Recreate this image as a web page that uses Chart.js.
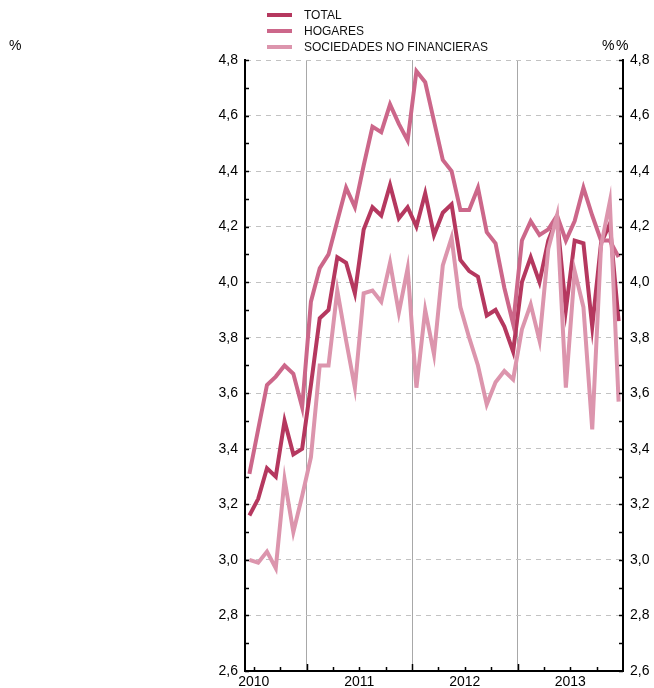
<!DOCTYPE html>
<html>
<head>
<meta charset="utf-8">
<script src="https://cdn.jsdelivr.net/npm/chart.js@4.4.0/dist/chart.umd.min.js"></script>
<style>
html, body { margin: 0; padding: 0; background: #fff; }
#wrap { position: relative; width: 654px; height: 688px; }
</style>
</head>
<body>
<div id="wrap"><canvas id="chart"></canvas></div>
<script>
// monthly data, jun 2010 - dec 2013
const months = [
  '2010-06','2010-07','2010-08','2010-09','2010-10','2010-11','2010-12',
  '2011-01','2011-02','2011-03','2011-04','2011-05','2011-06','2011-07','2011-08','2011-09','2011-10','2011-11','2011-12',
  '2012-01','2012-02','2012-03','2012-04','2012-05','2012-06','2012-07','2012-08','2012-09','2012-10','2012-11','2012-12',
  '2013-01','2013-02','2013-03','2013-04','2013-05','2013-06','2013-07','2013-08','2013-09','2013-10','2013-11','2013-12'
];

const total = [
  3.16, 3.22, 3.33, 3.30, 3.50, 3.38, 3.40,
  3.63, 3.87, 3.90, 4.09, 4.07, 3.96, 4.19, 4.27, 4.24, 4.35, 4.23, 4.27,
  4.20, 4.32, 4.17, 4.25, 4.28, 4.08, 4.04, 4.02, 3.88, 3.90, 3.84, 3.75,
  4.00, 4.09, 4.00, 4.15, 4.23, 3.90, 4.15, 4.14, 3.84, 4.14, 4.21, 3.86
];

const hogares = [
  3.31, 3.47, 3.63, 3.66, 3.70, 3.67, 3.55,
  3.93, 4.05, 4.10, 4.22, 4.34, 4.27, 4.42, 4.56, 4.54, 4.64, 4.57, 4.51,
  4.76, 4.72, 4.58, 4.44, 4.40, 4.26, 4.26, 4.34, 4.18, 4.14, 3.98, 3.85,
  4.15, 4.22, 4.17, 4.19, 4.24, 4.15, 4.22, 4.34, 4.24, 4.15, 4.15, 4.09
];

const sociedades = [
  3.00, 2.99, 3.03, 2.97, 3.29, 3.10, 3.23,
  3.37, 3.70, 3.70, 3.97, 3.79, 3.62, 3.96, 3.97, 3.93, 4.07, 3.89, 4.05,
  3.62, 3.90, 3.74, 4.06, 4.16, 3.91, 3.80, 3.70, 3.56, 3.64, 3.68, 3.65,
  3.83, 3.92, 3.79, 4.12, 4.24, 3.62, 4.04, 3.91, 3.47, 4.13, 4.29, 3.57
];

const seriesNames = ['TOTAL', 'HOGARES', 'SOCIEDADES NO FINANCIERAS'];
const years = ['2010', '2011', '2012', '2013'];
const yTicks = [2.6, 2.8, 3.0, 3.2, 3.4, 3.6, 3.8, 4.0, 4.2, 4.4, 4.6, 4.8];

const colors = ['#b5385f', '#cc678a', '#dc95ad'];
const font = '"Liberation Sans", Arial, sans-serif';

// month string -> position on a month axis (0 = jan 2010), centred in month
function monthPos(m) {
  const p = m.split('-');
  return (Number(p[0]) - 2010) * 12 + Number(p[1]) - 1 + 0.5;
}
function toPoints(vals) {
  return vals.map(function (v, i) { return { x: monthPos(months[i]), y: v }; });
}
// mid year for the label, january for the boundary line
function yearMid(y) { return monthPos(y + '-07') - 0.5; }
function yearStart(y) { return monthPos(y + '-01') - 0.5; }

const xMin = monthPos(months[0]) - 0.5;
const xMax = monthPos(months[months.length - 1]) + 0.5;

const extras = {
  id: 'extras',
  afterDraw: function (chart) {
    const ctx = chart.ctx;
    const area = chart.chartArea;
    const y = chart.scales.y;
    const x = chart.scales.x;
    ctx.save();
    ctx.strokeStyle = '#000';
    ctx.lineWidth = 1.5;
    ctx.beginPath();
    // inward ticks on both value axes, every 0.1
    for (let v = 26; v <= 48; v++) {
      const py = Math.round(y.getPixelForValue(v / 10)) + 0.5;
      ctx.moveTo(area.left, py); ctx.lineTo(area.left + 4, py);
      ctx.moveTo(area.right, py); ctx.lineTo(area.right - 4, py);
    }
    // quarter and year ticks on the time axis
    for (let q = Math.ceil(xMin / 3) * 3; q < xMax; q += 3) {
      const px = Math.round(x.getPixelForValue(q)) + 0.5;
      const len = q % 12 === 0 ? 7 : 4;
      ctx.moveTo(px, area.bottom); ctx.lineTo(px, area.bottom - len);
    }
    ctx.stroke();

    // unit labels
    ctx.fillStyle = '#000';
    ctx.font = '14px ' + font;
    ctx.textBaseline = 'middle';
    ctx.textAlign = 'left';
    ctx.fillText('%', 9, 46);
    ctx.fillText('%', 602, 46);
    ctx.fillText('%', 616, 46);

    // legend
    ctx.font = '12px ' + font;
    chart.data.datasets.forEach(function (ds, i) {
      const ly = 15 + i * 16;
      ctx.strokeStyle = ds.borderColor;
      ctx.lineWidth = 4;
      ctx.beginPath();
      ctx.moveTo(267, ly); ctx.lineTo(292, ly);
      ctx.stroke();
      ctx.fillStyle = '#111';
      ctx.fillText(ds.label, 304, ly + 1);
    });
    ctx.restore();
  }
};

const axisFont = { family: font, size: 14 };

new Chart(document.getElementById('chart'), {
  type: 'line',
  data: {
    datasets: [
      { label: seriesNames[0], data: toPoints(total), borderColor: colors[0], order: 2 },
      { label: seriesNames[1], data: toPoints(hogares), borderColor: colors[1], order: 1 },
      { label: seriesNames[2], data: toPoints(sociedades), borderColor: colors[2], order: 0 }
    ]
  },
  plugins: [extras],
  options: {
    responsive: true,
    maintainAspectRatio: false,
    animation: false,
    layout: { padding: { top: 60, left: 0, right: 0, bottom: 0 } },
    elements: {
      line: { borderWidth: 4, tension: 0, borderJoinStyle: 'miter' },
      point: { radius: 0 }
    },
    plugins: {
      legend: { display: false },
      tooltip: { enabled: false }
    },
    scales: {
      x: {
        type: 'linear',
        min: xMin,
        max: xMax,
        afterBuildTicks: function (scale) {
          const t = [];
          years.forEach(function (yr) {
            t.push({ value: yearMid(yr) });
            if (yr !== years[0]) t.push({ value: yearStart(yr) });
          });
          t.sort(function (a, b) { return a.value - b.value; });
          scale.ticks = t;
        },
        afterFit: function (scale) { scale.height = 17; },
        ticks: {
          autoSkip: false,
          maxRotation: 0,
          padding: 3,
          color: '#000',
          font: axisFont,
          callback: function (v) {
            const i = years.findIndex(function (yr) { return yearMid(yr) === v; });
            return i >= 0 ? years[i] : '';
          }
        },
        grid: {
          drawTicks: false,
          lineWidth: 1,
          color: function (c) {
            return c.tick && c.tick.value % 12 === 0 ? '#a8a8a8' : 'rgba(0,0,0,0)';
          }
        },
        border: { display: true, color: '#000', width: 2 }
      },
      y: {
        position: 'left',
        min: 2.6,
        max: 4.8,
        afterBuildTicks: function (scale) {
          scale.ticks = yTicks.map(function (v) { return { value: v }; });
        },
        afterFit: function (scale) { scale.width = 245; },
        ticks: {
          padding: 7,
          color: '#000',
          font: axisFont,
          callback: function (v) { return v.toFixed(1).replace('.', ','); }
        },
        grid: { drawTicks: false, color: '#c2c2c2', lineWidth: 1 },
        border: { display: true, color: '#000', width: 2, dash: [5, 5] }
      },
      y2: {
        position: 'right',
        min: 2.6,
        max: 4.8,
        afterBuildTicks: function (scale) {
          scale.ticks = yTicks.map(function (v) { return { value: v }; });
        },
        afterFit: function (scale) { scale.width = 31; },
        ticks: {
          padding: 7,
          color: '#000',
          font: axisFont,
          callback: function (v) { return v.toFixed(1).replace('.', ','); }
        },
        grid: { display: false, drawTicks: false },
        border: { display: true, color: '#000', width: 2 }
      }
    }
  }
});
</script>
</body>
</html>
